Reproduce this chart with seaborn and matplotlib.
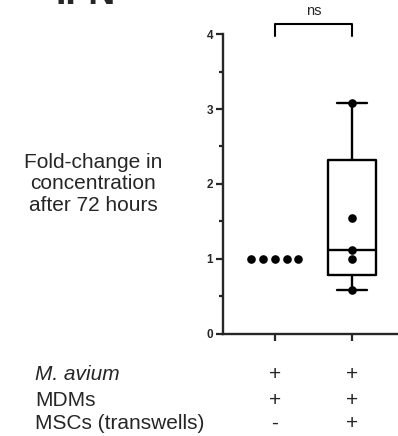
import matplotlib
matplotlib.use("Agg")
import matplotlib.pyplot as plt
import numpy as np
import pandas as pd
import seaborn as sns

# fold-change values, one per donor
groups = ["M. avium + MDMs", "M. avium + MDMs + MSCs"]
mdm_only = [1.0, 1.0, 1.0, 1.0, 1.0]
mdm_msc = [0.58, 1.0, 1.12, 1.55, 3.08]

row_labels = ["M. avium", "MDMs", "MSCs (transwells)"]
row_signs = [["+", "+"], ["+", "+"], ["-", "+"]]

df1 = pd.DataFrame({"group": groups[0], "value": mdm_only})
df2 = pd.DataFrame({"group": groups[1], "value": mdm_msc})

sns.set_style("ticks")
plt.rcParams["font.family"] = ["Liberation Sans", "DejaVu Sans"]

fig = plt.figure(figsize=(3.98, 4.36), dpi=100)
ax = fig.add_axes([0.560, 0.234, 0.44, 0.688])

# box for the second group, quartiles as in Prism (n+1 method)
vals = np.array(mdm_msc)
q1, med, q3 = np.percentile(vals, [25, 50, 75], method="weibull")
stats = [{"med": med, "q1": q1, "q3": q3, "whislo": vals.min(), "whishi": vals.max(), "fliers": []}]
lw = 1.7
ax.bxp(stats, positions=[1], widths=0.62, capwidths=0.39, showfliers=False,
       boxprops=dict(color="black", linewidth=lw),
       whiskerprops=dict(color="black", linewidth=lw),
       capprops=dict(color="black", linewidth=lw),
       medianprops=dict(color="black", linewidth=lw))

# identical values get spread sideways, the others sit on the centre line
sns.swarmplot(data=df1, x="group", y="value", order=groups, color="black",
              size=6.2, linewidth=1.9, edgecolor=(0, 0, 0, 0), ax=ax, zorder=5)
sns.stripplot(data=df2, x="group", y="value", order=groups, color="black",
              size=6.2, linewidth=0, jitter=False, ax=ax, zorder=5)

ax.set_xlim(-0.675, 1.6)
ax.set_ylim(0, 4)
ax.set_xticks([0, 1])
ax.set_xticklabels([])
ax.set_yticks([0, 1, 2, 3, 4])
ax.set_yticks(np.arange(0.5, 4, 1), minor=True)
ax.set_xlabel("")
ax.set_ylabel("")
for lab in ax.get_yticklabels():
    lab.set_fontweight("bold")
ax.tick_params(axis="y", which="major", length=5, width=1.6, labelsize=8.5, pad=2)
ax.tick_params(axis="y", which="minor", length=3, width=1.6)
ax.tick_params(axis="x", length=5, width=1.6)
for side in ["top", "right"]:
    ax.spines[side].set_visible(False)
for side in ["left", "bottom"]:
    ax.spines[side].set_linewidth(1.7)

# significance bracket
ax.plot([0, 0, 1, 1], [3.98, 4.13, 4.13, 3.98], color="black", linewidth=1.5,
        clip_on=False)
ax.text(0.5, 4.22, "ns", ha="center", va="bottom", fontsize=10.5)

fig.text(0.234, 0.578, "Fold-change in\nconcentration\nafter 72 hours",
         ha="center", va="center", multialignment="center", fontsize=15,
         linespacing=1.15)

fig.text(0.14, 1 - 4 / 436, "IFN-", fontsize=27, fontweight="bold",
         ha="left", va="baseline")

trans = ax.get_xaxis_transform()
row_y = [-0.136, -0.223, -0.299]
for label, signs, y in zip(row_labels, row_signs, row_y):
    fig.text(0.088, ax.transAxes.transform((0, y))[1] / fig.bbox.height, label,
             ha="left", va="center", fontsize=15,
             style="italic" if label == "M. avium" else "normal")
    for i, s in enumerate(signs):
        ax.text(i, y, s, transform=trans, ha="center", va="center", fontsize=15)

fig.savefig("out.png", dpi=100)
